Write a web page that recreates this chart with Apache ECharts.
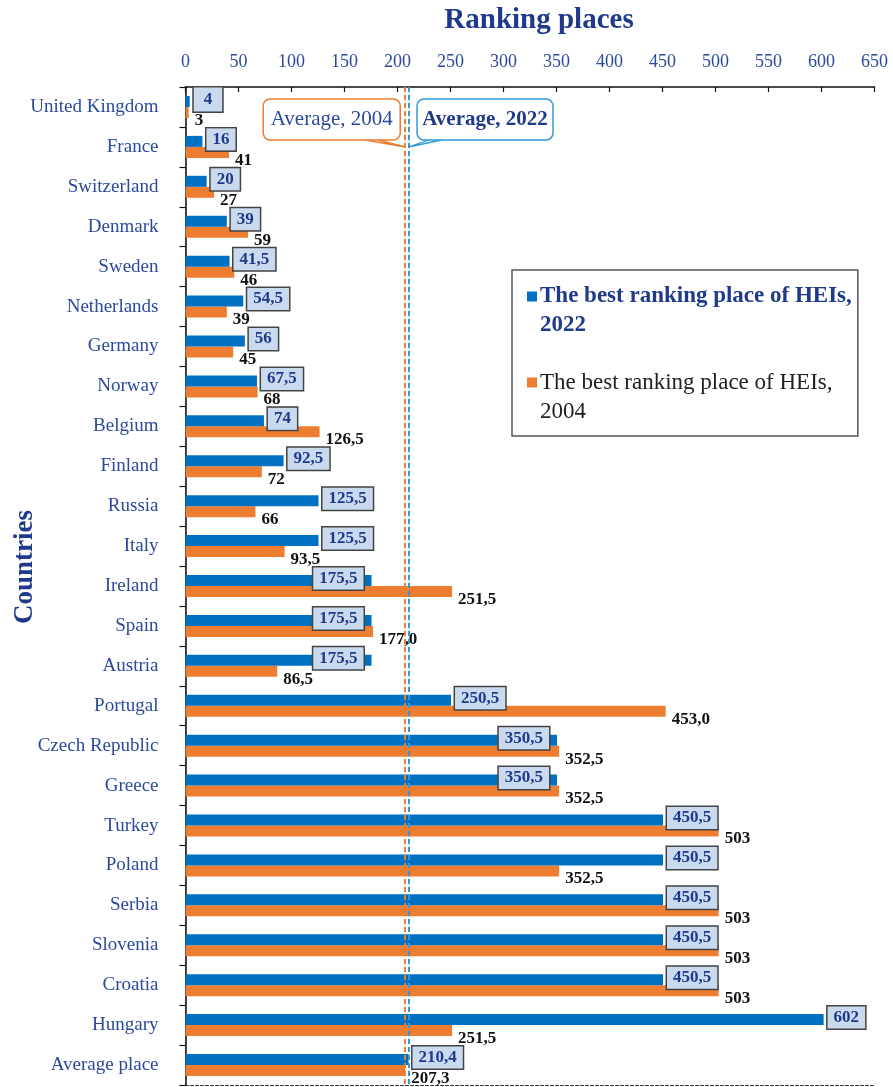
<!DOCTYPE html>
<html>
<head>
<meta charset="utf-8">
<script src="https://cdn.jsdelivr.net/npm/echarts@6/dist/echarts.min.js"></script>
<style>
  html, body { margin: 0; padding: 0; background: #ffffff; }
  #chart { width: 893px; height: 1087px; }
</style>
</head>
<body>
<div id="chart"></div>
<script>
// Countries, top to bottom
const countries = [
  'United Kingdom', 'France', 'Switzerland', 'Denmark', 'Sweden', 'Netherlands',
  'Germany', 'Norway', 'Belgium', 'Finland', 'Russia', 'Italy', 'Ireland', 'Spain',
  'Austria', 'Portugal', 'Czech Republic', 'Greece', 'Turkey', 'Poland', 'Serbia',
  'Slovenia', 'Croatia', 'Hungary', 'Average place'
];

// Best ranking place of HEIs, as printed (comma decimals)
const places2022 = [
  '4', '16', '20', '39', '41,5', '54,5', '56', '67,5', '74', '92,5', '125,5', '125,5',
  '175,5', '175,5', '175,5', '250,5', '350,5', '350,5', '450,5', '450,5', '450,5',
  '450,5', '450,5', '602', '210,4'
];
const places2004 = [
  '3', '41', '27', '59', '46', '39', '45', '68', '126,5', '72', '66', '93,5',
  '251,5', '177,0', '86,5', '453,0', '352,5', '352,5', '503', '352,5', '503',
  '503', '503', '251,5', '207,3'
];

const axisMin = 0;
const axisMax = 650;
const axisStep = 50;

const name2022 = 'The best ranking place of HEIs, 2022';
const name2004 = 'The best ranking place of HEIs, 2004';

// rows whose 2022 value box sits just inside the bar end
const insideBoxRows = ['Ireland', 'Spain', 'Austria', 'Czech Republic', 'Greece'];

const toNum = s => parseFloat(s.replace(',', '.'));
const values2022 = places2022.map(toNum);
const values2004 = places2004.map(toNum);
const avg2022 = values2022[values2022.length - 1];
const avg2004 = values2004[values2004.length - 1];

const BLUE = '#0070C0';
const LIGHT_BLUE = '#2E9BD8';
const ORANGE = '#ED7D31';
const NAVY = '#1F3A8A';
const TEXT_BLUE = '#2B4A9B';
const SERIF = "'Liberation Serif', 'Times New Roman', serif";

const chart = echarts.init(document.getElementById('chart'), null, { renderer: 'canvas' });

const data2022 = values2022.map((v, i) => {
  const item = { value: v };
  if (insideBoxRows.indexOf(countries[i]) >= 0) {
    item.label = { position: 'insideRight', distance: 8 };
  } else if (places2022[i].length === 1) {
    // single-digit box is drawn a little wider
    item.label = { padding: [4, 10, 3, 10] };
  }
  return item;
});

const option = {
  backgroundColor: '#ffffff',
  animation: false,
  grid: { left: 185.5, right: 18.5, top: 87, bottom: 2, containLabel: false, outerBoundsMode: 'none' },
  legend: {
    orient: 'vertical',
    left: 512,
    top: 270,
    align: 'left',
    padding: [12, 6, 10, 10],
    itemGap: 28,
    itemWidth: 0,
    itemHeight: 0,
    borderColor: '#555555',
    borderWidth: 1.5,
    backgroundColor: '#ffffff',
    selectedMode: false,
    data: [name2022, name2004],
    formatter: function (name) {
      const parts = name.split(', ');
      if (name === name2022) {
        return '{sq22|}{t22|' + parts[0] + ',}\n{y22|' + parts[1] + '}';
      }
      return '{sq04|}{t04|' + parts[0] + ',}\n{y04|' + parts[1] + '}';
    },
    textStyle: {
      fontFamily: SERIF,
      fontSize: 23,
      lineHeight: 29,
      rich: {
        sq22: { width: 10, height: 10, backgroundColor: BLUE },
        sq04: { width: 10, height: 10, backgroundColor: ORANGE },
        t22: { fontFamily: SERIF, fontSize: 23, fontWeight: 'bold', color: NAVY, padding: [0, 0, 0, 3], lineHeight: 29 },
        y22: { fontFamily: SERIF, fontSize: 23, fontWeight: 'bold', color: NAVY, padding: [0, 0, 0, 13], lineHeight: 29 },
        t04: { fontFamily: SERIF, fontSize: 23, color: '#222222', padding: [0, 0, 0, 3], lineHeight: 29 },
        y04: { fontFamily: SERIF, fontSize: 23, color: '#222222', padding: [0, 0, 0, 13], lineHeight: 29 }
      }
    }
  },
  xAxis: [
    {
      type: 'value',
      position: 'top',
      min: axisMin,
      max: axisMax,
      interval: axisStep,
      name: 'Ranking places',
      nameLocation: 'middle',
      nameGap: 52,
      nameTextStyle: { fontFamily: SERIF, fontSize: 29, fontWeight: 'bold', color: NAVY, padding: [0, 0, 0, 18] },
      axisLine: { show: true, lineStyle: { color: '#111111', width: 1.5 } },
      axisTick: { show: true, inside: true, length: 5, lineStyle: { color: '#111111', width: 1.2 } },
      axisLabel: { fontFamily: SERIF, fontSize: 18, color: TEXT_BLUE, margin: 16 },
      splitLine: { show: false }
    },
    {
      type: 'value',
      position: 'bottom',
      min: axisMin,
      max: axisMax,
      interval: axisStep,
      axisLine: { show: true, lineStyle: { color: '#333333', width: 1, type: [3, 2] } },
      axisTick: { show: false },
      axisLabel: { show: false },
      splitLine: { show: false }
    }
  ],
  yAxis: [
    {
      type: 'category',
      inverse: true,
      data: countries,
      axisLine: { show: true, lineStyle: { color: '#111111', width: 1.5 } },
      axisTick: { show: true, inside: false, length: 6, lineStyle: { color: '#111111', width: 1.2 } },
      axisLabel: { fontFamily: SERIF, fontSize: 19, color: TEXT_BLUE, margin: 27, padding: [5, 0, 0, 0] }
    },
    {
      type: 'category',
      inverse: true,
      position: 'right',
      data: countries,
      axisLine: { show: true, lineStyle: { color: '#333333', width: 1, type: [3, 2] } },
      axisTick: { show: false },
      axisLabel: { show: false }
    }
  ],
  series: [
    {
      name: name2022,
      type: 'bar',
      xAxisIndex: 0,
      yAxisIndex: 0,
      barWidth: 11,
      barGap: '0%',
      itemStyle: { color: BLUE },
      data: data2022,
      label: {
        show: true,
        position: 'right',
        distance: 4,
        offset: [0, -2],
        formatter: p => places2022[p.dataIndex],
        fontFamily: SERIF,
        fontSize: 17,
        fontWeight: 'bold',
        color: NAVY,
        backgroundColor: '#C9DAEE',
        borderColor: '#444444',
        borderWidth: 1.5,
        padding: [3, 6, 2, 6]
      },
      markLine: {
        silent: true,
        symbol: 'none',
        label: { show: false },
        lineStyle: { color: LIGHT_BLUE, type: [5, 3], width: 2 },
        data: [{ xAxis: avg2022 }]
      },
      z: 3
    },
    {
      name: name2004,
      type: 'bar',
      xAxisIndex: 0,
      yAxisIndex: 0,
      barWidth: 11,
      barGap: '0%',
      itemStyle: { color: ORANGE },
      data: values2004,
      label: {
        show: true,
        position: 'right',
        distance: 6,
        offset: [0, 8],
        formatter: p => places2004[p.dataIndex],
        fontFamily: SERIF,
        fontSize: 17,
        fontWeight: 'bold',
        color: '#111111'
      },
      markLine: {
        silent: true,
        symbol: 'none',
        label: { show: false },
        lineStyle: { color: ORANGE, type: [5, 3], width: 2 },
        data: [{ xAxis: avg2004 }]
      },
      z: 2
    }
  ]
};

chart.setOption(option);

// Callouts naming the two average lines, anchored on the axis positions of the averages
const x04 = chart.convertToPixel({ xAxisIndex: 0 }, avg2004);
const x22 = chart.convertToPixel({ xAxisIndex: 0 }, avg2022);
const boxTop = 99;
const boxH = 41;
const tipY = boxTop + boxH + 7;

chart.setOption({
  graphic: [
    {
      type: 'polyline',
      shape: { points: [[x04 - 40, boxTop + boxH], [x04, tipY], [x04 - 27, boxTop + boxH]] },
      style: { stroke: ORANGE, lineWidth: 1.3, fill: null },
      z: 20
    },
    {
      type: 'rect',
      shape: { x: x04 - 142, y: boxTop, width: 137, height: boxH, r: 7 },
      style: { fill: '#ffffff', stroke: ORANGE, lineWidth: 1.5 },
      z: 21
    },
    {
      type: 'text',
      x: x04 - 73.5,
      y: boxTop + boxH / 2,
      style: {
        text: 'Average, 2004',
        fontFamily: SERIF,
        fontSize: 21,
        fill: TEXT_BLUE,
        align: 'center',
        verticalAlign: 'middle'
      },
      z: 22
    },
    {
      type: 'polyline',
      shape: { points: [[x22 + 20, boxTop + boxH], [x22, tipY], [x22 + 33, boxTop + boxH]] },
      style: { stroke: LIGHT_BLUE, lineWidth: 1.3, fill: null },
      z: 20
    },
    {
      type: 'rect',
      shape: { x: x22 + 8.5, y: boxTop, width: 136, height: boxH, r: 7 },
      style: { fill: '#ffffff', stroke: LIGHT_BLUE, lineWidth: 1.5 },
      z: 21
    },
    {
      type: 'text',
      x: x22 + 76.5,
      y: boxTop + boxH / 2,
      style: {
        text: 'Average, 2022',
        fontFamily: SERIF,
        fontSize: 21,
        fontWeight: 'bold',
        fill: NAVY,
        align: 'center',
        verticalAlign: 'middle'
      },
      z: 22
    },
    {
      type: 'text',
      x: 25,
      y: 567,
      rotation: Math.PI / 2,
      style: {
        text: 'Countries',
        fontFamily: SERIF,
        fontSize: 27,
        fontWeight: 'bold',
        fill: NAVY,
        align: 'center',
        verticalAlign: 'middle'
      }
    }
  ]
});
</script>
</body>
</html>
